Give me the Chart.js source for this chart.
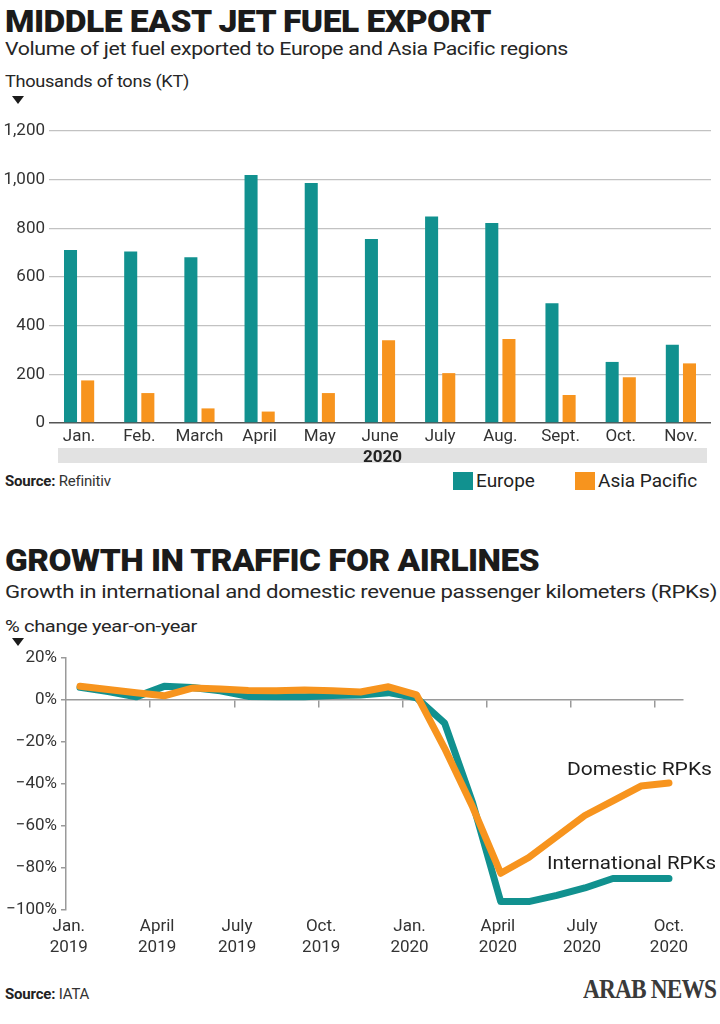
<!DOCTYPE html>
<html>
<head>
<meta charset="utf-8">
<script src="https://cdn.jsdelivr.net/npm/chart.js@4.4.1/dist/chart.umd.min.js"></script>
<style>
  html, body { margin:0; padding:0; background:#fff; }
  body { width:720px; height:1024px; position:relative; overflow:hidden; font-family: Roboto, "Liberation Sans", sans-serif; color:#222; }
  .t { position:absolute; white-space:nowrap; line-height:1; transform-origin:0 0; }
  .title { font-weight:900; font-size:31px; color:#1b1b1b; letter-spacing:-0.5px; }
  .sub { font-size:18.5px; color:#262626; letter-spacing:-0.3px; }
  .unit { font-size:17px; color:#262626; letter-spacing:-0.3px; }
  .tri { position:absolute; width:0; height:0; border-left:6px solid transparent; border-right:6px solid transparent; border-top:8px solid #1b1b1b; }
  .src { font-size:15px; color:#333; letter-spacing:-0.2px; }
  .src b { font-weight:700; color:#222; }
  .sw { position:absolute; width:20px; height:18px; }
  .lg { font-size:19px; color:#222; }
  canvas { position:absolute; left:0; }
</style>
</head>
<body>
<div class="t title" style="left:5px;top:6px" data-w="486">MIDDLE EAST JET FUEL EXPORT</div>
<div class="t sub" style="left:5px;top:40px" data-w="563">Volume of jet fuel exported to Europe and Asia Pacific regions</div>
<div class="t unit" style="left:5px;top:73px" data-w="184">Thousands of tons (KT)</div>
<div class="tri" style="left:12px;top:96px"></div>

<canvas id="c1" width="720" height="337" style="top:110px;width:720px;height:337px"></canvas>
<div style="position:absolute;left:58px;top:448px;width:649px;height:15px;background:#e2e2e2;"></div>
<div class="t" style="left:58px;top:448px;width:649px;text-align:center;font-weight:700;font-size:17px;line-height:16px;color:#222">2020</div>

<div class="t src" style="left:5px;top:474px"><b>Source:</b> Refinitiv</div>
<div class="sw" style="left:453px;top:472px;background:#11918f"></div>
<div class="t lg" style="left:476px;top:471px">Europe</div>
<div class="sw" style="left:575px;top:472px;background:#f7941e"></div>
<div class="t lg" style="left:598px;top:471px">Asia Pacific</div>

<div class="t title" style="left:5px;top:545px" data-w="534">GROWTH IN TRAFFIC FOR AIRLINES</div>
<div class="t sub" style="left:5px;top:583px" data-w="712">Growth in international and domestic revenue passenger kilometers (RPKs)</div>
<div class="t unit" style="left:5px;top:618px" data-w="192">% change year-on-year</div>
<div class="tri" style="left:12px;top:638px"></div>

<canvas id="c2" width="720" height="320" style="top:640px;width:720px;height:320px"></canvas>
<div class="t lg" style="left:567px;top:759px;color:#1e1e1e" data-w="145">Domestic RPKs</div>
<div class="t lg" style="left:547px;top:853px;color:#1e1e1e" data-w="169">International RPKs</div>

<div class="t src" style="left:5px;top:987px"><b>Source:</b> IATA</div>
<div class="t" style="left:583px;top:976px;font-family:'Liberation Serif','DejaVu Serif',serif;font-weight:700;font-size:27px;color:#3a3a3a;letter-spacing:-1px" data-w="133">ARAB NEWS</div>

<script>
// ---------- Chart 1 data: Middle East jet fuel export (KT), 2020 ----------
const months2020 = ['Jan.', 'Feb.', 'March', 'April', 'May', 'June', 'July', 'Aug.', 'Sept.', 'Oct.', 'Nov.'];
const europeKT = [711, 705, 681, 1019, 986, 756, 849, 822, 492, 251, 322];
const asiaPacificKT = [175, 123, 60, 47, 123, 340, 205, 345, 115, 188, 245];

// ---------- Chart 2 data: RPK growth % year-on-year, Jan 2019 .. Oct 2020 ----------
const rpkMonthIndex = [0,1,2,3,4,5,6,7,8,9,10,11,12,13,14,15,16,17,18,19,20,21];
const internationalRPK = [6, 4, 1.5, 6.5, 6, 4.4, 1.7, 1.6, 1.6, 2.2, 2.4, 3.5, 1, -11, -49, -96, -96, -93, -89.5, -85, -85, -85];
const domesticRPK = [6.5, 5, 3.5, 2, 5.7, 5.2, 4.5, 4.4, 4.8, 4.4, 3.8, 6.3, 2.4, -23, -51, -82.5, -75, -65, -55, -48, -41, -39.5];
const rpkTickLabels = [['Jan.','2019'], ['April','2019'], ['July','2019'], ['Oct.','2019'], ['Jan.','2020'], ['April','2020'], ['July','2020'], ['Oct.','2020']];
const rpkTickLabelPos = [-0.4, 2.75, 5.6, 8.6, 11.75, 14.9, 17.9, 21];
const rpkQuarterMarks = [2.5, 5.5, 8.5, 11.5, 14.5, 17.5, 20.5];
const rpkYTicks = [20, 0, -20, -40, -60, -80, -100];

const TEAL = '#11918f';
const ORANGE = '#f7941e';
const FONT = 'Roboto, "Liberation Sans", sans-serif';

new Chart(document.getElementById('c1'), {
  type: 'bar',
  data: {
    labels: months2020,
    datasets: [
      { label: 'Europe', data: europeKT, backgroundColor: TEAL, categoryPercentage: 0.57, barPercentage: 0.76 },
      { label: 'Asia Pacific', data: asiaPacificKT, backgroundColor: ORANGE, categoryPercentage: 0.57, barPercentage: 0.76 }
    ]
  },
  options: {
    responsive: false, animation: false, devicePixelRatio: 1,
    layout: { padding: { top: 21, right: 9, left: 0, bottom: 0 } },
    plugins: { legend: { display: false }, tooltip: { enabled: false } },
    scales: {
      y: {
        min: 0, max: 1200,
        ticks: { stepSize: 200, color: '#333', font: { family: FONT, size: 17 }, padding: 4,
          callback: v => v.toLocaleString('en-US') },
        grid: { drawTicks: false, color: c => c.tick && c.tick.value === 0 ? '#555' : '#c2c2c2', lineWidth: c => c.tick && c.tick.value === 0 ? 1.6 : 1.2 },
        border: { display: false },
        afterFit: s => { s.width = 49; }
      },
      x: {
        grid: { display: false, drawTicks: false }, border: { display: false },
        ticks: { color: '#333', font: { family: FONT, size: 17 }, padding: 4, maxRotation: 0, autoSkip: false },
        afterFit: s => { s.height = 24; }
      }
    }
  }
});

new Chart(document.getElementById('c2'), {
  type: 'line',
  data: {
    datasets: [
      { label: 'International RPKs', data: rpkMonthIndex.map((m, i) => ({ x: m, y: internationalRPK[i] })),
        borderColor: TEAL, borderWidth: 7, pointRadius: 0, tension: 0, borderJoinStyle: 'round', borderCapStyle: 'round', order: 2, xAxisID: 'x' },
      { label: 'Domestic RPKs', data: rpkMonthIndex.map((m, i) => ({ x: m, y: domesticRPK[i] })),
        borderColor: ORANGE, borderWidth: 7, pointRadius: 0, tension: 0, borderJoinStyle: 'round', borderCapStyle: 'round', order: 1, xAxisID: 'x' }
    ]
  },
  options: {
    responsive: false, animation: false, devicePixelRatio: 1,
    layout: { padding: { top: 18, right: 37, left: 0, bottom: 0 } },
    plugins: { legend: { display: false }, tooltip: { enabled: false } },
    scales: {
      y: {
        min: -100, max: 20,
        afterBuildTicks: s => { s.ticks = rpkYTicks.map(v => ({ value: v })); },
        ticks: { color: '#333', font: { family: FONT, size: 17 }, padding: 4,
          callback: v => (v < 0 ? '\u2212' + Math.abs(v) : v) + '%' },
        grid: { drawOnChartArea: false, drawTicks: true, tickLength: 5, color: '#9a9a9a', lineWidth: 1.5 },
        border: { display: true, color: '#9a9a9a', width: 1.5 },
        afterFit: s => { s.width = 66; }
      },
      x: {
        type: 'linear', min: -0.5, max: 21.5,
        afterBuildTicks: s => { s.ticks = rpkTickLabelPos.map(v => ({ value: v })); },
        ticks: { color: '#333', font: { family: FONT, size: 17, lineHeight: 1.2 }, padding: 7, maxRotation: 0, autoSkip: false,
          callback: (v, i) => rpkTickLabels[i] },
        grid: { display: false, drawTicks: false }, border: { display: false },
        afterFit: s => { s.height = 50; }
      },
      x2: {
        type: 'linear', min: -0.5, max: 21.5, position: { y: 0 },
        afterBuildTicks: s => { s.ticks = rpkQuarterMarks.map(v => ({ value: v })); },
        ticks: { display: false },
        grid: { drawOnChartArea: false, drawTicks: true, tickLength: 7, color: '#9a9a9a', lineWidth: 1.5 },
        border: { display: true, color: '#9a9a9a', width: 1.5 }
      }
    }
  }
});

function fitTexts() {
  document.querySelectorAll('[data-w]').forEach(el => {
    el.style.transform = 'none';
    const w = el.getBoundingClientRect().width;
    const target = parseFloat(el.getAttribute('data-w'));
    if (w > 0) el.style.transform = 'scaleX(' + (target / w) + ')';
  });
}
fitTexts();
if (document.fonts && document.fonts.ready) document.fonts.ready.then(fitTexts);
</script>
</body>
</html>
